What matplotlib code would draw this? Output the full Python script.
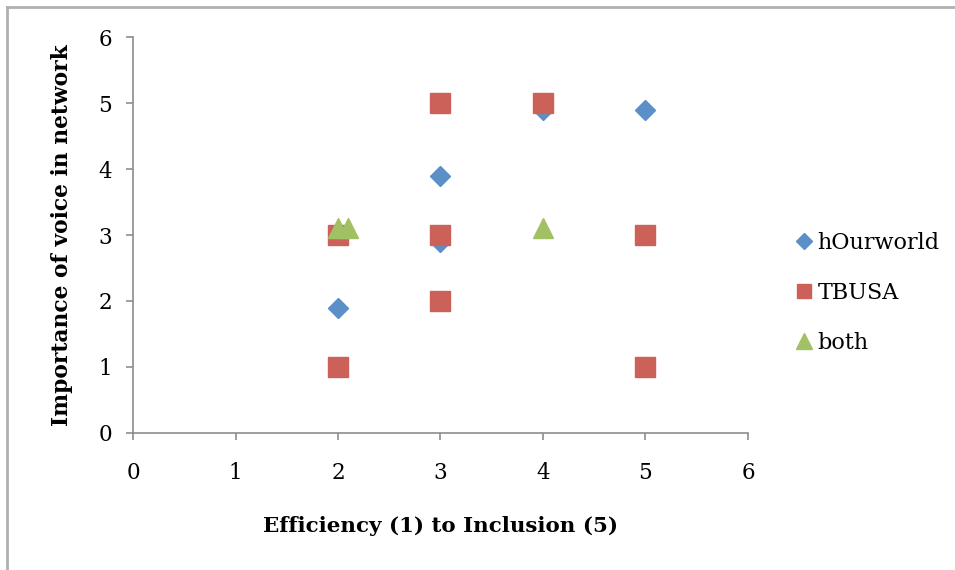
import matplotlib.pyplot as plt
from matplotlib.lines import Line2D

# data
hour_x = [2, 3, 3, 4, 5]
hour_y = [1.9, 3.9, 2.9, 4.9, 4.9]
tbusa_x = [2, 2, 3, 3, 3, 4, 5, 5]
tbusa_y = [3, 1, 5, 3, 2, 5, 3, 1]
both_x = [2.0, 2.1, 4.0]
both_y = [3.1, 3.1, 3.1]

ticks = [0, 1, 2, 3, 4, 5, 6]

plt.rcParams['font.family'] = ['DejaVu Serif']

fig = plt.figure(figsize=(9.55, 5.7), dpi=100)
ax = fig.add_axes([0.1393, 0.2404, 0.7832 - 0.1393, 0.935 - 0.2404])

ax.plot(hour_x, hour_y, ls='none', marker='D', ms=10.5, color='#5A8FC8', label='hOurworld')
ax.plot(tbusa_x, tbusa_y, ls='none', marker='s', ms=14, color='#CC6159', label='TBUSA')
ax.plot(both_x, both_y, ls='none', marker='^', ms=15, color='#A2C164', label='both')

ax.set_xlim(0, 6)
ax.set_ylim(0, 6)
ax.set_xticks(ticks)
ax.set_yticks(ticks)

grey = '#8C8C8C'
for s in ['top', 'right']:
    ax.spines[s].set_visible(False)
for s in ['left', 'bottom']:
    ax.spines[s].set_color(grey)
    ax.spines[s].set_linewidth(1.2)
ax.tick_params(colors=grey, length=5, width=1.2, labelcolor='black', labelsize=15.5)
ax.tick_params(axis='x', pad=16)
ax.tick_params(axis='y', pad=10)

ax.set_xlabel('Efficiency (1) to Inclusion (5)', fontsize=15.4, fontweight='bold', labelpad=23)
ax.set_ylabel('Importance of voice in network', fontsize=15.7, fontweight='bold', labelpad=18)

ax.legend(loc='center left', bbox_to_anchor=(1.037, 0.354), frameon=False, fontsize=16,
          handletextpad=0.0, labelspacing=1.25, handlelength=1.2, markerscale=0.75)

# grey frame along the top and left edge
fig.add_artist(Line2D([7 / 955, 1], [1 - 7 / 570, 1 - 7 / 570], color='#B0B0B0', lw=2))
fig.add_artist(Line2D([7 / 955, 7 / 955], [0, 1 - 7 / 570], color='#B0B0B0', lw=2))

fig.savefig('out.png', dpi=100)
